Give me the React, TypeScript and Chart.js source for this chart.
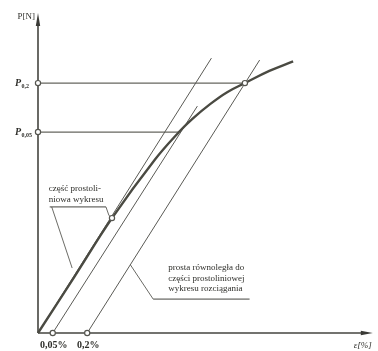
import React, { useEffect, useRef } from "react";
import { Chart, registerables } from "chart.js";

Chart.register(...registerables);

// Schematic tensile diagram, values in diagram units (0..100 on both axes)
const curveStrain = [0, 11.0, 22.1, 35.0, 42.1, 46.2, 51.5, 56.5, 61.8, 69.1, 76.2];
const curveForce = [0, 17.8, 35.9, 54.3, 62.8, 67.0, 71.6, 75.25, 78.1, 81.9, 84.9];

const elasticStrain = [0, 51.8];
const elasticForce = [0, 85.9];
const offset005Strain = [4.4, 47.6];
const offset005Force = [0, 70.9];
const offset02Strain = [14.7, 66.2];
const offset02Force = [0, 85.3];

const strainTicks = [4.4, 14.7];
const strainTickLabels = ["0,05%", "0,2%"];
const proofForces = [62.8, 78.1];
const proofStrainsOnCurve = [42.1, 61.8];
const proofSubscripts = ["0,05", "0,2"];
const proportionalLimit = [22.1, 35.9];

const note1Lines = ["część prostoli-", "niowa wykresu"];
const note1UnderlineStrain = [3.5, 20.3];
const note1UnderlineForce = [39.4, 39.4];
const note1LeaderAStrain = [4.1, 10.2];
const note1LeaderAForce = [39.4, 20.3];
const note1LeaderBStrain = [20.3, 21.2, 22.1];
const note1LeaderBForce = [39.4, 36.7, 35.9];

const note2Lines = ["prosta równoległa do", "części prostoliniowej", "wykresu rozciągania"];
const note2UnderlineStrain = [34.4, 63.2];
const note2UnderlineForce = [10.6, 10.6];
const note2LeaderStrain = [34.4, 27.6];
const note2LeaderForce = [10.6, 21.3];

const axisMax = 100;

const pts = (xs: number[], ys: number[]) => xs.map((x, i) => ({ x, y: ys[i] }));

const lineDs = (data: any[], color: string, width: number, extra: any = {}) => ({
  data,
  showLine: true,
  borderColor: color,
  borderWidth: width,
  pointRadius: 0,
  fill: false,
  clip: false,
  ...extra,
});

const textPlugin = {
  id: "diagramText",
  afterDatasetsDraw(chart: any) {
    const { ctx, scales } = chart;
    const xs = scales.x;
    const ys = scales.y;
    const px = (v: number) => xs.getPixelForValue(v);
    const py = (v: number) => ys.getPixelForValue(v);
    ctx.save();
    ctx.fillStyle = "#3a3a36";
    // arrows
    const ox = px(0);
    const oy = py(0);
    const topY = py(axisMax);
    ctx.beginPath();
    ctx.moveTo(ox, topY);
    ctx.lineTo(ox - 2.2, topY + 13);
    ctx.lineTo(ox + 2.2, topY + 13);
    ctx.closePath();
    ctx.fill();
    const rightX = px(axisMax);
    ctx.beginPath();
    ctx.moveTo(rightX, oy);
    ctx.lineTo(rightX - 12, oy - 2.2);
    ctx.lineTo(rightX - 12, oy + 2.2);
    ctx.closePath();
    ctx.fill();

    ctx.fillStyle = "#2e2e2a";
    ctx.textBaseline = "middle";
    // axis titles
    ctx.font = '9px "Liberation Serif"';
    ctx.textAlign = "right";
    ctx.fillText("P[N]", ox - 3, topY + 4);
    ctx.textAlign = "left";
    ctx.font = 'italic 9px "Liberation Serif"';
    ctx.fillText("ε[%]", rightX - 19, oy + 13);

    // proof load labels
    proofForces.forEach((f, i) => {
      const y = py(f);
      ctx.font = 'bold italic 10px "Liberation Serif"';
      ctx.textAlign = "left";
      const x0 = 15;
      ctx.fillText("P", x0, y);
      const w = ctx.measureText("P").width;
      ctx.font = 'bold 6px "Liberation Serif"';
      ctx.fillText(proofSubscripts[i], x0 + w + 0.5, y + 3);
    });

    // strain tick labels
    ctx.font = 'bold 10px "Liberation Serif"';
    ctx.textAlign = "center";
    strainTicks.forEach((s, i) => {
      ctx.fillText(strainTickLabels[i], px(s) + 1, oy + 12);
    });

    // notes
    ctx.font = '9px "Liberation Serif"';
    ctx.textAlign = "left";
    const n1y = py(note1UnderlineForce[0]);
    note1Lines.forEach((t, i) => {
      ctx.fillText(t, px(note1UnderlineStrain[0]) - 1, n1y - 18 + i * 11);
    });
    const n2y = py(note2UnderlineForce[0]);
    note2Lines.forEach((t, i) => {
      ctx.fillText(t, px(note2UnderlineStrain[0]) + 15, n2y - 31 + i * 10.5);
    });
    ctx.restore();
  },
};

export default function App() {
  const ref = useRef<HTMLCanvasElement | null>(null);
  useEffect(() => {
    if (!ref.current) return;
    const thin = "#5a5a55";
    const chart = new Chart(ref.current, {
      type: "scatter",
      data: {
        datasets: [
          {
            data: [
              ...proofForces.map((f) => ({ x: 0, y: f })),
              ...strainTicks.map((s) => ({ x: s, y: 0 })),
              { x: proportionalLimit[0], y: proportionalLimit[1] },
              { x: proofStrainsOnCurve[1], y: proofForces[1] },
            ],
            showLine: false,
            pointRadius: 2.6,
            pointBackgroundColor: "#ffffff",
            pointBorderColor: "#55554f",
            pointBorderWidth: 1.2,
            clip: false,
            order: -2,
          } as any,
          lineDs(pts(curveStrain, curveForce), "#4a4a42", 2.4, {
            tension: 0.4,
            order: -1,
          }),
          lineDs(pts(elasticStrain, elasticForce), thin, 1),
          lineDs(pts(offset005Strain, offset005Force), thin, 1),
          lineDs(pts(offset02Strain, offset02Force), thin, 1),
          lineDs([{ x: 0, y: proofForces[0] }, { x: proofStrainsOnCurve[0], y: proofForces[0] }], "#66665f", 1.3),
          lineDs([{ x: 0, y: proofForces[1] }, { x: proofStrainsOnCurve[1], y: proofForces[1] }], "#66665f", 1.3),
          lineDs(pts(note1UnderlineStrain, note1UnderlineForce), "#44443f", 1),
          lineDs(pts(note1LeaderAStrain, note1LeaderAForce), thin, 0.9),
          lineDs(pts(note1LeaderBStrain, note1LeaderBForce), thin, 0.9),
          lineDs(pts(note2UnderlineStrain, note2UnderlineForce), "#44443f", 1),
          lineDs(pts(note2LeaderStrain, note2LeaderForce), thin, 0.9),
          lineDs([{ x: 0, y: 0 }, { x: 0, y: axisMax - 3 }], "#44443f", 1.6),
          lineDs([{ x: 0, y: 0 }, { x: axisMax - 3, y: 0 }], "#44443f", 1.4),
        ],
      },
      options: {
        animation: false,
        responsive: false,
        devicePixelRatio: 1,
        layout: { padding: { left: 38, right: 0, top: 13, bottom: 18 } },
        scales: {
          x: { type: "linear", min: 0, max: axisMax, display: false },
          y: { type: "linear", min: 0, max: axisMax, display: false },
        },
        plugins: { legend: { display: false }, tooltip: { enabled: false } },
        events: [],
      },
      plugins: [textPlugin],
    });
    return () => chart.destroy();
  }, []);
  return (
    <div style={{ position: "fixed", left: 0, top: 0, width: 378, height: 351, background: "#fff" }}>
      <canvas ref={ref} width={378} height={351} style={{ display: "block" }} />
    </div>
  );
}
